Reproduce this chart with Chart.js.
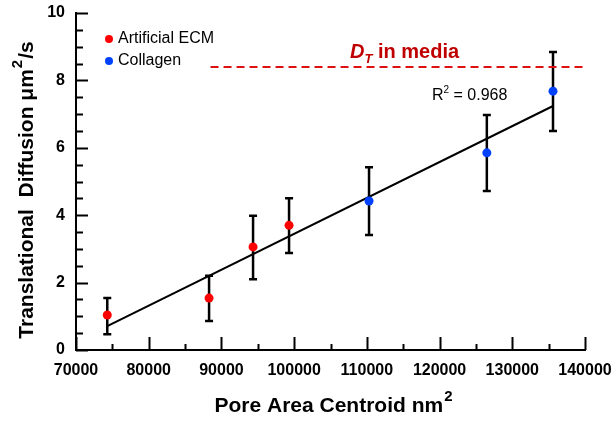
<!DOCTYPE html>
<html>
<head>
<meta charset="utf-8">
<script src="https://cdn.jsdelivr.net/npm/chart.js@4.4.1/dist/chart.umd.min.js"></script>
<style>
    html, body { margin: 0; padding: 0; background: #fff; }
</style>
</head>
<body>
<canvas id="chart" width="616" height="422"></canvas>
<script>
// Artificial ECM samples (pore area centroid, diffusion, error bar ends)
const ecmX = [74300, 88300, 94350, 99300];
const ecmY = [1.04, 1.54, 3.06, 3.70];
const ecmLow = [0.47, 0.86, 2.10, 2.88];
const ecmHigh = [1.54, 2.20, 3.98, 4.50];

// Collagen samples
const colX = [110300, 126500, 135600];
const colY = [4.42, 5.85, 7.68];
const colLow = [3.41, 4.72, 6.50];
const colHigh = [5.42, 6.97, 8.84];

// Linear fit end points
const fitX = [74300, 135600];
const fitY = [0.71, 7.24];

// D_T in media reference line
const mediaX = [88500, 140000];
const mediaY = [8.4, 8.4];

const FONT = '"Liberation Sans", Arial, sans-serif';

function toPoints(xs, ys) {
    return xs.map((x, i) => ({ x: x, y: ys[i] }));
}

// Error bars drawn through the chart scales
const errorBars = {
    id: 'errorBars',
    beforeDatasetsDraw(chart) {
        const { ctx, scales: { x, y } } = chart;
        const groups = [[ecmX, ecmLow, ecmHigh], [colX, colLow, colHigh]];
        ctx.save();
        ctx.strokeStyle = '#000';
        ctx.lineWidth = 2.5;
        groups.forEach(([xs, lows, highs]) => {
            xs.forEach((v, i) => {
                const px = x.getPixelForValue(v);
                const top = y.getPixelForValue(highs[i]);
                const bot = y.getPixelForValue(lows[i]);
                ctx.beginPath();
                ctx.moveTo(px, top); ctx.lineTo(px, bot);
                ctx.moveTo(px - 4, top); ctx.lineTo(px + 4, top);
                ctx.moveTo(px - 4, bot); ctx.lineTo(px + 4, bot);
                ctx.stroke();
            });
        });
        ctx.restore();
    }
};

// Inward tick marks, legend, titles and notes
const decorations = {
    id: 'decorations',
    afterDraw(chart) {
        const { ctx, scales: { x, y } } = chart;
        ctx.save();
        ctx.strokeStyle = '#000';
        ctx.lineWidth = 2;
        ctx.beginPath();
        for (let v = 70000; v <= 140000; v += 5000) {
            const px = Math.round(x.getPixelForValue(v)) + 0.5;
            const len = v % 10000 === 0 ? 13 : 6;
            ctx.moveTo(px, x.top); ctx.lineTo(px, x.top - len);
        }
        for (let v = 0; v <= 10; v += 0.5) {
            const py = Math.round(y.getPixelForValue(v)) + 0.5;
            const len = v % 2 === 0 ? 12 : 7;
            ctx.moveTo(y.right, py); ctx.lineTo(y.right + len, py);
        }
        ctx.stroke();

        // legend
        const legend = [['Artificial ECM', '#ff0000', 39], ['Collagen', '#0040ff', 61]];
        ctx.font = '16px ' + FONT;
        ctx.textBaseline = 'middle';
        legend.forEach(([label, color, ly]) => {
            ctx.fillStyle = color;
            ctx.beginPath();
            ctx.arc(109, ly, 4, 0, Math.PI * 2);
            ctx.fill();
            ctx.fillStyle = '#000';
            ctx.fillText(label, 118, ly);
        });

        // D_T in media
        ctx.textBaseline = 'alphabetic';
        ctx.fillStyle = '#c00000';
        let tx = 350;
        ctx.font = 'italic bold 20px ' + FONT;
        ctx.fillText('D', tx, 58);
        tx += ctx.measureText('D').width;
        ctx.font = 'italic bold 13px ' + FONT;
        ctx.fillText('T', tx, 63);
        tx += ctx.measureText('T').width;
        ctx.font = 'bold 20px ' + FONT;
        ctx.fillText(' in media', tx, 58);

        // R squared
        ctx.fillStyle = '#000';
        tx = 432;
        ctx.font = '16px ' + FONT;
        ctx.fillText('R', tx, 100);
        tx += ctx.measureText('R').width;
        ctx.font = '10px ' + FONT;
        ctx.fillText('2', tx, 93);
        tx += ctx.measureText('2').width;
        ctx.font = '16px ' + FONT;
        ctx.fillText(' = 0.968', tx, 100);

        // axis titles with superscripts
        drawSuper(ctx, 'Pore Area Centroid nm', '2', '', 334, 412, 0);
        drawSuper(ctx, 'Translational  Diffusion \u03bcm', '2', '/s', 190, 33, -Math.PI / 2);
        ctx.restore();
    }
};

function drawSuper(ctx, main, sup, tail, cx, base, rot) {
    ctx.save();
    if (rot) {
        ctx.translate(base, cx);
        ctx.rotate(rot);
    } else {
        ctx.translate(cx, base);
    }
    ctx.fillStyle = '#000';
    ctx.textBaseline = 'alphabetic';
    ctx.font = 'bold 21px ' + FONT;
    const w1 = ctx.measureText(main).width;
    const w3 = ctx.measureText(tail).width;
    ctx.font = 'bold 15px ' + FONT;
    const w2 = ctx.measureText(sup).width + 2;
    let px = -(w1 + w2 + w3) / 2;
    ctx.font = 'bold 21px ' + FONT;
    ctx.fillText(main, px, 0);
    px += w1 + 1;
    ctx.font = 'bold 15px ' + FONT;
    ctx.fillText(sup, px, -11);
    px += w2 - 1;
    ctx.font = 'bold 21px ' + FONT;
    ctx.fillText(tail, px, 0);
    ctx.restore();
}

new Chart(document.getElementById('chart'), {
    type: 'scatter',
    data: {
        datasets: [
            {
                label: 'Artificial ECM',
                data: toPoints(ecmX, ecmY),
                backgroundColor: '#ff0000',
                borderWidth: 0,
                pointRadius: 4.5,
                order: 1
            },
            {
                label: 'Collagen',
                data: toPoints(colX, colY),
                backgroundColor: '#0040ff',
                borderWidth: 0,
                pointRadius: 4.5,
                order: 1
            },
            {
                label: 'Fit',
                data: toPoints(fitX, fitY),
                showLine: true,
                borderColor: '#000',
                borderWidth: 2,
                pointRadius: 0,
                order: 2
            },
            {
                label: 'D_T in media',
                data: toPoints(mediaX, mediaY),
                showLine: true,
                borderColor: '#dd1111',
                borderWidth: 2,
                borderDash: [8, 5],
                pointRadius: 0,
                order: 2
            }
        ]
    },
    options: {
        responsive: false,
        animation: false,
        devicePixelRatio: 1,
        layout: { padding: { top: 13, right: 31, bottom: 0, left: 0 } },
        plugins: {
            legend: { display: false },
            tooltip: { enabled: false }
        },
        scales: {
            x: {
                type: 'linear',
                min: 70000,
                max: 140000,
                afterFit(scale) {
                    scale.height = 72;
                    scale.paddingLeft = 0;
                    scale.paddingRight = 0;
                },
                grid: { display: false, drawTicks: false },
                border: { display: true, color: '#000', width: 2 },
                ticks: {
                    stepSize: 10000,
                    padding: 11,
                    color: '#000',
                    font: { family: FONT, size: 16, weight: 'bold' },
                    callback: v => String(v)
                }
            },
            y: {
                min: 0,
                max: 10,
                afterFit(scale) {
                    scale.width = 76;
                    scale.paddingTop = 0;
                    scale.paddingBottom = 0;
                },
                grid: { display: false, drawTicks: false },
                border: { display: true, color: '#000', width: 2 },
                ticks: {
                    stepSize: 2,
                    padding: 11,
                    color: '#000',
                    font: { family: FONT, size: 16, weight: 'bold' }
                }
            }
        }
    },
    plugins: [errorBars, decorations]
});
</script>
</body>
</html>
